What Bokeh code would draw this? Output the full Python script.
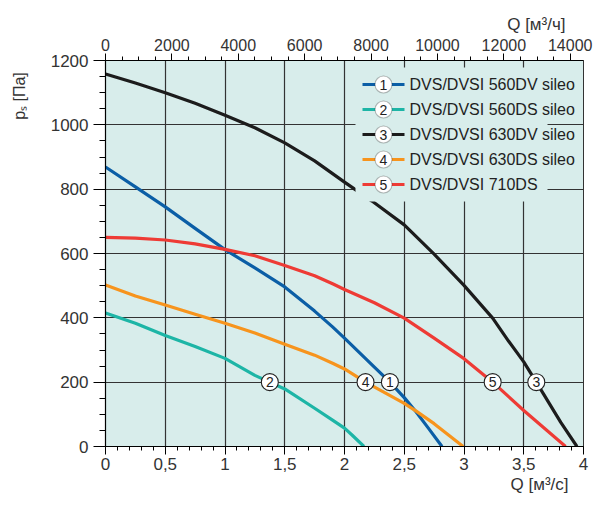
import numpy as np
from bokeh.plotting import figure
from bokeh.models import (Range1d, LinearAxis, SingleIntervalTicker, CustomJSTickFormatter,
                          Label, ColumnDataSource, BoxAnnotation, Title)
from bokeh.core.properties import value
from bokeh.embed import file_html
from bokeh.resources import INLINE

# ---------------- data ----------------
names = ["DVS/DVSI 560DV sileo", "DVS/DVSI 560DS sileo", "DVS/DVSI 630DV sileo",
         "DVS/DVSI 630DS sileo", "DVS/DVSI 710DS"]
numbers = ["1", "2", "3", "4", "5"]
colors = ["#0b5ea6", "#1db5a6", "#1c1c1c", "#f7941d", "#ee3b35"]

q1 = [0, 0.25, 0.5, 0.75, 1, 1.25, 1.5, 1.75, 1.9, 2, 2.25, 2.38, 2.5, 2.6, 2.7, 2.816]
p1 = [869, 807, 745, 678, 612, 555, 496, 421, 372, 337, 247, 200, 152, 107, 58, 0]

q2 = [0, 0.25, 0.5, 0.75, 1, 1.25, 1.5, 1.75, 1.9, 2, 2.065, 2.163]
p2 = [415, 383, 345, 311, 274, 221, 179, 119, 82, 57, 35, 0]

q3 = [0, 0.25, 0.5, 0.75, 1, 1.25, 1.5, 1.75, 2, 2.23, 2.5, 2.75, 3, 3.24, 3.374, 3.5,
      3.605, 3.81, 3.945]
p3 = [1158, 1130, 1100, 1067, 1030, 991, 944, 888, 822, 763, 689, 598, 501, 399, 327, 263,
      200, 75, 0]

q4 = [0, 0.25, 0.5, 0.75, 1, 1.25, 1.5, 1.75, 1.905, 2, 2.176, 2.5, 2.6, 2.75, 2.993]
p4 = [502, 468, 440, 411, 383, 353, 318, 284, 258, 241, 200, 134, 110, 71, 0]

q5 = [0, 0.25, 0.5, 0.75, 1, 1.25, 1.5, 1.75, 1.905, 2, 2.25, 2.5, 2.75, 3, 3.24, 3.5, 3.85]
p5 = [650, 648, 642, 630, 613, 593, 563, 531, 505, 488, 447, 399, 337, 273, 200, 112, 0]

curves_q = [q1, q2, q3, q4, q5]
curves_p = [p1, p2, p3, p4, p5]
label_pressure = 200          # curve number markers sit where each curve crosses 200 Pa
m3h_per_m3s = 3600

BG = "#d8edeb"
GRID = "#333333"
FONT = "Liberation Sans"
NB = "\u00a0"

# ---------------- figure ----------------
W, H = 594, 498
BL, BR, BT, BB = 105, 11, 60, 52
FH = H - BT - BB
p = figure(width=W, height=H, output_backend="svg", toolbar_location=None,
           x_range=Range1d(0, 4), y_range=Range1d(0, 1200),
           min_border_left=BL, min_border_right=BR, min_border_top=BT, min_border_bottom=BB)
p.background_fill_color = BG
p.border_fill_color = "white"
p.outline_line_color = GRID
p.outline_line_width = 1

has_align = "axis_label_align" in LinearAxis.properties()

def style_axis(ax, size):
    ax.axis_line_color = "black"
    ax.axis_line_width = 1.2
    ax.major_tick_line_color = "black"
    ax.minor_tick_line_color = "black"
    ax.major_tick_in = 0
    ax.minor_tick_in = 0
    ax.major_label_text_font = FONT
    ax.major_label_text_font_size = size
    ax.major_label_text_color = "#333333"
    ax.axis_label_text_font = FONT
    ax.axis_label_text_font_size = "16px"
    ax.axis_label_text_font_style = "normal"
    ax.axis_label_text_color = "#333333"

# bottom axis
xa = p.xaxis[0]
xa.ticker = SingleIntervalTicker(interval=0.5, num_minor_ticks=5)
xa.formatter = CustomJSTickFormatter(code="return tick.toString().replace('.', ',')")
style_axis(xa, "17px")
xa.major_tick_out = 8
xa.minor_tick_out = 4
xa.major_label_standoff = 3

# left axis (title placed at the top end)
ya = p.yaxis[0]
ya.ticker = SingleIntervalTicker(interval=200, num_minor_ticks=4)
style_axis(ya, "17px")
ya.major_tick_out = 12
ya.minor_tick_out = 6
ya.major_label_standoff = 5
if has_align:
    ya.axis_label_align = "end"
    ya.axis_label = "pₛ [Па]" + NB * 16
else:
    ya.axis_label = "pₛ [Па]"
ya.axis_label_standoff = 20

# top axis in m3/h
p.extra_x_ranges = {"m3h": Range1d(0, 4 * m3h_per_m3s)}
ta = LinearAxis(x_range_name="m3h", ticker=SingleIntervalTicker(interval=2000, num_minor_ticks=4))
style_axis(ta, "16px")
ta.major_tick_out = 7
ta.minor_tick_out = 4
ta.major_label_standoff = 3
p.add_layout(ta, "above")

title_has_standoff = "standoff" in Title.properties()

def side_title(text, offset, standoff):
    t = Title(text=text, align="right", offset=offset, text_font=FONT,
              text_font_size="17px", text_font_style="normal", text_color="#333333")
    if title_has_standoff:
        t.standoff = standoff
    return t

p.add_layout(side_title("Q [м³/ч]", 18, 4), "above")
p.add_layout(side_title("Q [м³/с]", 15, 0), "below")

# grid
p.xgrid.grid_line_color = GRID
p.xgrid.grid_line_width = 1.2
p.ygrid.grid_line_color = GRID
p.ygrid.grid_line_width = 1.2

# curves
for q, pr, c in zip(curves_q, curves_p, colors):
    p.line(q, pr, line_color=c, line_width=3.2, line_join="round")

# curve number markers at 200 Pa
for q, pr, n in zip(curves_q, curves_p, numbers):
    qx = float(np.interp(label_pressure, pr[::-1], q[::-1]))
    src = ColumnDataSource(dict(x=[qx], y=[label_pressure], t=[n]))
    p.scatter("x", "y", source=src, size=17, fill_color="white", line_color="#222222",
              line_width=1.1)
    p.text("x", "y", text="t", source=src, text_align="center", text_baseline="middle",
           text_font=value(FONT), text_font_size="14px", text_color="#222222")

# legend (drawn as annotations, px inside the frame measured from its bottom-left)
LEG_LEFT, LEG_RIGHT = 250, 442
ROW0, ROW_STEP = FH - 24, 25      # centre of first row, distance between rows
GW, R = 42, 8.5
cx = LEG_LEFT + 7 + GW / 2
n_items = len(names)
scr = dict(left_units="screen", right_units="screen", top_units="screen", bottom_units="screen")

p.add_layout(BoxAnnotation(left=LEG_LEFT, right=LEG_RIGHT,
                           top=ROW0 + 17, bottom=ROW0 - (n_items - 1) * ROW_STEP - 17,
                           fill_color=BG, fill_alpha=1, line_color=None, **scr))
for i, (nm, n, c) in enumerate(zip(names, numbers, colors)):
    cy = ROW0 - i * ROW_STEP
    p.add_layout(BoxAnnotation(left=cx - GW / 2, right=cx + GW / 2, bottom=cy - 1.6, top=cy + 1.6,
                               fill_color=c, fill_alpha=1, line_color=None, **scr))
    p.add_layout(BoxAnnotation(left=cx - R, right=cx + R, bottom=cy - R, top=cy + R,
                               fill_color="white", fill_alpha=1, line_color="#222222",
                               line_width=1.1, border_radius=9, **scr))
    p.add_layout(Label(x=cx, y=cy, x_units="screen", y_units="screen", text=n,
                       text_align="center", text_baseline="middle", text_font=FONT,
                       text_font_size="14px", text_color="#222222"))
    p.add_layout(Label(x=cx + GW / 2 + 5, y=cy, x_units="screen", y_units="screen", text=nm,
                       text_align="left", text_baseline="middle", text_font=FONT,
                       text_font_size="16px", text_color="#222222",
                       background_fill_color=BG, background_fill_alpha=1))

open("out.html", "w").write(file_html(p, INLINE))
